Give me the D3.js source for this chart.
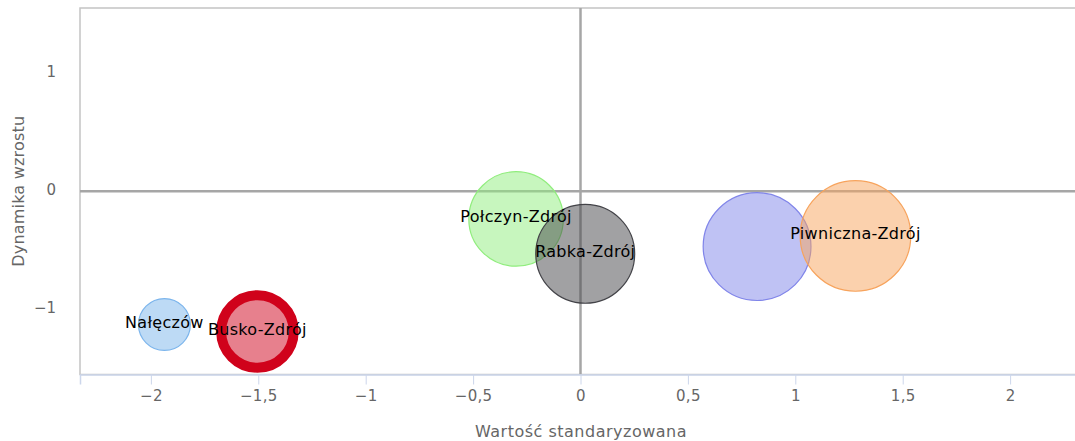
<!DOCTYPE html>
<html>
<head>
<meta charset="utf-8">
<script src="https://cdn.jsdelivr.net/npm/d3@7"></script>
<style>
  body { margin: 0; background: #fff; }
  text { font-family: "DejaVu Sans", sans-serif; }
</style>
</head>
<body>
<svg id="chart"></svg>
<script>
// bubble data
var names  = ["Nałęczów", "Busko-Zdrój", "Połczyn-Zdrój", "Rabka-Zdrój", null, "Piwniczna-Zdrój"];
var xVals  = [-1.937, -1.504, -0.300, 0.022, 0.822, 1.280];
var yVals  = [-1.127, -1.186, -0.234, -0.529, -0.468, -0.378];
var zVals  = [22, 43, 73, 80, 95, 100];
var colors = ["#7cb5ec", "#d0021b", "#90ed7d", "#434348", "#8085e9", "#f7a35c"];
var xTicks = [-2, -1.5, -1, -0.5, 0, 0.5, 1, 1.5, 2];
var yTicks = [-1, 0, 1];

var w = 1075, h = 441;
var pLeft = 80, pRight = 1081, pTop = 8, pBottom = 374.5;

var svg = d3.select('#chart')
    .attr('width', w)
    .attr('height', h);

var x = d3.scaleLinear().domain([-2.33, 2.33]).range([pLeft, pRight]);
var y = d3.scaleLinear().domain([-1.55, 1.55]).range([pBottom, pTop]);
var r = d3.scaleSqrt().domain([0, 100]).range([0, 55.3]);

var fmt = function(v) {
  return (v < 0 ? "\u2212" : "") + String(Math.abs(v)).replace(".", ",");
};

// plot border
svg.append('rect')
  .attr('x', pLeft).attr('y', pTop)
  .attr('width', pRight - pLeft).attr('height', pBottom - pTop)
  .attr('fill', 'none')
  .attr('stroke', '#c4c4c4')
  .attr('stroke-width', 1.5);

// zero lines
svg.append('line')
  .attr('x1', pLeft).attr('x2', pRight)
  .attr('y1', y(0)).attr('y2', y(0))
  .attr('stroke', '#a6a6a6').attr('stroke-width', 2.5);
svg.append('line')
  .attr('x1', x(0)).attr('x2', x(0))
  .attr('y1', pTop).attr('y2', pBottom)
  .attr('stroke', '#a6a6a6').attr('stroke-width', 2.5);

// x axis
var gX = svg.append('g')
  .attr('transform', 'translate(0,' + pBottom + ')')
  .call(d3.axisBottom(x).tickValues(xTicks).tickFormat(fmt).tickSize(10).tickPadding(6));
gX.select('.domain').attr('stroke', '#ccd6eb').attr('stroke-width', 1.5);
gX.selectAll('.tick line').attr('stroke', '#ccd6eb');
gX.selectAll('.tick text')
  .attr('fill', '#666').attr('font-size', 15).attr('letter-spacing', 0.3)
  .attr('font-family', '"DejaVu Sans", sans-serif');

// y axis
var gY = svg.append('g')
  .attr('transform', 'translate(' + pLeft + ',0)')
  .call(d3.axisLeft(y).tickValues(yTicks).tickFormat(fmt).tickSize(0).tickPadding(24));
gY.select('.domain').remove();
gY.selectAll('.tick text')
  .attr('fill', '#666').attr('font-size', 15).attr('dy', '0.2em')
  .attr('font-family', '"DejaVu Sans", sans-serif');

// axis titles
svg.append('text')
  .attr('x', 581).attr('y', 437)
  .attr('text-anchor', 'middle')
  .attr('fill', '#666').attr('font-size', 16).attr('letter-spacing', 0.5)
  .text('Wartość standaryzowana');
svg.append('text')
  .attr('transform', 'translate(24,' + y(0) + ') rotate(-90)')
  .attr('text-anchor', 'middle')
  .attr('fill', '#666').attr('font-size', 16).attr('letter-spacing', 0.2)
  .text('Dynamika wzrostu');

var data = names.map(function(n, i) {
  return { name: n, x: xVals[i], y: yVals[i], z: zVals[i], color: colors[i] };
});

// bubbles
svg.append('g')
  .selectAll('circle')
  .data(data)
  .enter()
  .append('circle')
  .attr('cx', function(d) { return x(d.x); })
  .attr('cy', function(d) { return y(d.y); })
  .attr('r', function(d) { return r(d.z); })
  .attr('fill', function(d) { return d.color; })
  .attr('fill-opacity', 0.5)
  .attr('stroke', function(d) { return d.color; })
  .attr('stroke-width', function(d) { return d.name === 'Busko-Zdrój' ? 10 : 1.2; });

// labels
svg.append('g')
  .selectAll('text')
  .data(data.filter(function(d) { return d.name; }))
  .enter()
  .append('text')
  .attr('x', function(d) { return x(d.x); })
  .attr('y', function(d) { return y(d.y); })
  .attr('dy', '0.22em')
  .attr('text-anchor', 'middle')
  .attr('fill', '#000')
  .attr('font-size', 16)
  .attr('letter-spacing', 0.3)
  .text(function(d) { return d.name; });
</script>
</body>
</html>
